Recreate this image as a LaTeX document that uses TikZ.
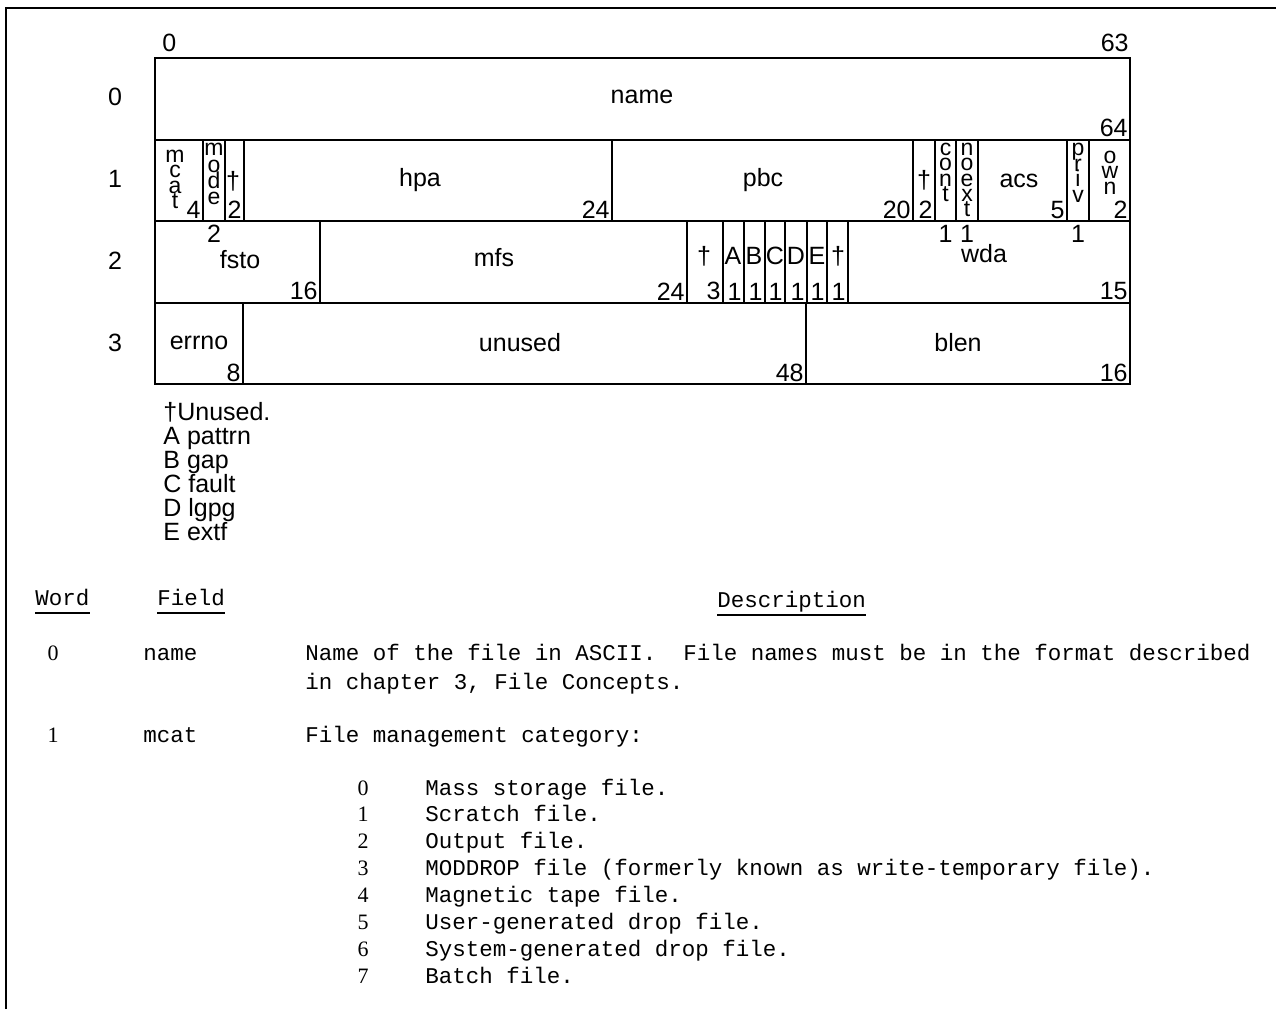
\documentclass[tikz,border=0pt]{standalone}
\usepackage{fontspec}
\setsansfont{Liberation Sans}
\setmonofont{Liberation Mono}
\newfontfamily\numfont{Liberation Serif}
\usetikzlibrary{positioning}
\newcommand\tightlines{\lineskiplimit-20pt\relax}

\tikzset{
  field/.style={draw, line width=1pt, rectangle, inner sep=0pt, minimum height=40.75pt},
  lbl/.style={font=\sffamily\fontsize{12.5}{14}\selectfont, inner sep=0pt},
  bits/.style={font=\sffamily\fontsize{12.5}{14}\selectfont, inner sep=1.5pt},
  vstack/.style={font=\sffamily\fontsize{11.5}{#1}\selectfont\tightlines, align=center, inner sep=0pt, anchor=north},
  vstack/.default=7.6,
  mono/.style={font=\ttfamily\fontsize{11.25}{14}\selectfont\frenchspacing, inner sep=0pt, anchor=base west},
  num/.style={font=\numfont\fontsize{11}{14}\selectfont, inner sep=0pt, anchor=base},
  uline/.style={line width=0.8pt},
  pageframe/.style={line width=1.2pt}
}

\begin{document}
\begin{tikzpicture}[x=0.5pt, y=-0.5pt]
\useasboundingbox (0,0) rectangle (1276,1009);
% page frame
\draw[pageframe] (6,1009) -- (6,8) -- (1276,8);

% field boxes: name/left/right/word
\foreach \fname/\xa/\xb/\row in {name/155/1130/0,
    mcat/155/203/1, mode/203/225/1, unA/225/244/1, hpa/244/612/1, pbc/612/913/1,
    unB/913/935/1, cont/935/956/1, noext/956/978/1, acs/978/1067/1, priv/1067/1089/1, own/1089/1130/1,
    fsto/155/320/2, mfs/320/687/2, unC/687/723/2, pattrn/723/744/2, gap/744/765/2, fault/765/785/2,
    lgpg/785/807/2, extf/807/827/2, unD/827/848/2, wda/848/1130/2,
    errno/155/243/3, unused/243/806/3, blen/806/1130/3} {
  \pgfmathsetmacro{\fw}{(\xb-\xa)*0.5}
  \node[field, minimum width=\fw pt] (\fname) at ({(\xa+\xb)/2}, {58+81.5*\row+40.75}) {};
}

% word numbers
\foreach \row in {0,...,3}
  \node[lbl] (word\row) at (115, {97+82*\row}) {\row};

% bit numbers on top
\node[lbl, anchor=south west] (bit0) at ([xshift=4pt, yshift=2.5pt]name.north west) {0};
\node[lbl, anchor=south east] (bit63) at ([xshift=-1pt, yshift=2.5pt]name.north east) {63};

% field names
\foreach \fname/\x/\y/\txt in {name/642/97/name, hpa/420/180/hpa, pbc/763/180/pbc, acs/1019/181/acs,
    fsto/240/260/fsto, mfs/494/258/mfs, wda/984/254/wda, errno/199/343/errno, unused/520/343/unused,
    blen/958/343/blen, unA/233/181/†, unB/924/180/†, unC/704/256/†, pattrn/733/256/A, gap/754/256/B,
    fault/775/256/C, lgpg/796/256/D, extf/817/256/E, unD/838/256/†}
  \node[lbl] (\fname-l) at (\x,\y) {\txt};

% narrow fields, letters stacked
\node[vstack] (mcat-l) at (175,150) {m\\c\\a\\t};
\node[vstack=8.2] (mode-l) at (214,143) {m\\o\\d\\e};
\node[vstack] (cont-l) at (945.5,143) {c\\o\\n\\t};
\node[vstack] (noext-l) at (967,143) {n\\o\\e\\x\\t};
\node[vstack=7.8] (priv-l) at (1078,143) {p\\r\\i\\v};
\node[vstack] (own-l) at (1110,151) {o\\w\\n};

% field widths
\foreach \fname/\w in {name/64, mcat/4, unA/2, hpa/24, pbc/20, unB/2, acs/5, own/2, fsto/16, mfs/24,
    unC/3, pattrn/1, gap/1, fault/1, lgpg/1, extf/1, unD/1, wda/15, errno/8, unused/48, blen/16}
  \node[bits, anchor=south east] (\fname-w) at (\fname.south east) {\w};
\foreach \fname/\w in {mode/2, cont/1, noext/1, priv/1}
  \node[bits, anchor=north] (\fname-w) at (\fname.south) {\w};

% key
\foreach \i/\txt in {0/†Unused., 1/A pattrn, 2/B gap, 3/C fault, 4/D lgpg, 5/E extf}
  \node[lbl, anchor=base west] (key\i) at (163, {420+24*\i}) {\txt};

% table
\node[mono] (hd-word) at (35,605) {Word};
\node[mono] (hd-field) at (157,605) {Field};
\node[mono] (hd-desc) at (717,607) {Description};
\foreach \n in {hd-word, hd-field, hd-desc}
  \draw[uline] ([yshift=-4pt]\n.base west) -- ([yshift=-4pt]\n.base east);

\node[num] (w0) at (53,660) {0};
\node[mono] (f0) at (143,660) {name};
\node[mono] (d0a) at (305,660) {Name of the file in ASCII.\ \ File names must be in the format described};
\node[mono] (d0b) at (305,689) {in chapter 3, File Concepts.};
\node[num] (w1) at (53,742) {1};
\node[mono] (f1) at (143,742) {mcat};
\node[mono] (d1) at (305,742) {File management category:};

\foreach \i/\txt in {0/Mass storage file., 1/Scratch file., 2/Output file.,
    3/MODDROP file (formerly known as write-temporary file)., 4/Magnetic tape file.,
    5/User-generated drop file., 6/System-generated drop file., 7/Batch file.} {
  \node[num] (cat\i) at (363, {795+26.9*\i}) {\i};
  \node[mono] (cat\i-t) at (425, {795+26.9*\i}) {\txt};
}
\end{tikzpicture}
\end{document}
